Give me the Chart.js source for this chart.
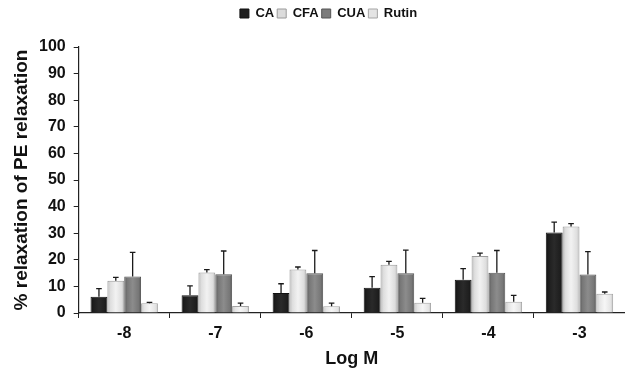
<!DOCTYPE html>
<html>
<head>
<meta charset="utf-8">
<script src="https://cdn.jsdelivr.net/npm/chart.js@4/dist/chart.umd.min.js"></script>
<style>
html,body{margin:0;padding:0;background:#fff;overflow:hidden;}
#wrap{width:625px;height:370px;position:relative;}
</style>
</head>
<body>
<div id="wrap"><canvas id="c" width="625" height="370"></canvas></div>
<script>
const categories = ["-8", "-7", "-6", "-5", "-4", "-3"];
const seriesNames = ["CA", "CFA", "CUA", "Rutin"];
const caValues    = [6.1, 6.7, 7.5, 9.5, 12.5, 30.3];
const cfaValues   = [12.1, 15.2, 16.4, 18.1, 21.4, 32.5];
const cuaValues   = [13.7, 14.6, 14.9, 14.9, 15.1, 14.5];
const rutinValues = [3.7, 2.6, 2.5, 3.9, 4.2, 7.2];
const caErr    = [3.1, 3.5, 3.5, 4.2, 4.2, 3.9];
const cfaErr   = [1.3, 1.1, 0.9, 1.3, 1.1, 1.1];
const cuaErr   = [9.1, 8.7, 8.6, 8.7, 8.4, 8.6];
const rutinErr = [0.3, 1.1, 1.2, 1.6, 2.4, 0.7];
const yTicks = [0, 10, 20, 30, 40, 50, 60, 70, 80, 90, 100];

const FONT = "'Liberation Sans', Arial, sans-serif";

const errorBars = {
  id: 'errorBars',
  afterDatasetsDraw(chart) {
    const ctx = chart.ctx;
    const y = chart.scales.y;
    chart.data.datasets.forEach((ds, di) => {
      const meta = chart.getDatasetMeta(di);
      meta.data.forEach((bar, i) => {
        const top = y.getPixelForValue(ds.data[i] + ds.errors[i]);
        const base = bar.y;
        ctx.save();
        ctx.strokeStyle = '#1a1a1a';
        ctx.lineWidth = 1.3;
        ctx.beginPath();
        ctx.moveTo(bar.x, base);
        ctx.lineTo(bar.x, top);
        ctx.moveTo(bar.x - 2.8, top);
        ctx.lineTo(bar.x + 2.8, top);
        ctx.stroke();
        ctx.restore();
      });
    });
  }
};

// horizontal shading per bar (bevelled look)
const barShading = {
  id: 'barShading',
  beforeDatasetsDraw(chart) {
    const ctx = chart.ctx;
    chart.data.datasets.forEach((ds, di) => {
      const meta = chart.getDatasetMeta(di);
      meta.data.forEach((bar) => {
        const x0 = bar.x - bar.width / 2, x1 = bar.x + bar.width / 2;
        const g = ctx.createLinearGradient(x0, 0, x1, 0);
        const s = ds.shade;
        g.addColorStop(0, s[0]);
        g.addColorStop(0.18, s[1]);
        g.addColorStop(0.5, s[2]);
        g.addColorStop(0.85, s[1]);
        g.addColorStop(1, s[0]);
        bar.options = Object.assign({}, bar.options, { backgroundColor: g });
      });
    });
  }
};

const legendShift = {
  id: 'legendShift',
  beforeInit(chart) {
    const fitOrig = chart.legend.fit;
    chart.legend.fit = function() {
      fitOrig.call(this);
      this.height += 17;
    };
  },
  afterLayout(chart) {
    chart.legend.left += 10;
    chart.legend.right += 10;
  }
};

function ds(label, data, errors, bg, border, shade) {
  return {
    label, data, errors, shade,
    backgroundColor: bg,
    borderColor: border,
    borderWidth: 1,
    barPercentage: 1.0,
    categoryPercentage: 0.74
  };
}

new Chart(document.getElementById('c'), {
  type: 'bar',
  data: {
    labels: categories,
    datasets: [
      ds(seriesNames[0], caValues, caErr, '#1e1e1e', '#111111', ['#111111', '#1e1e1e', '#2a2a2a']),
      ds(seriesNames[1], cfaValues, cfaErr, '#dcdcdc', '#9a9a9a', ['#bdbdbd', '#dedede', '#f2f2f2']),
      ds(seriesNames[2], cuaValues, cuaErr, '#7c7c7c', '#555555', ['#5a5a5a', '#777777', '#8c8c8c']),
      ds(seriesNames[3], rutinValues, rutinErr, '#e4e4e4', '#a5a5a5', ['#c4c4c4', '#e4e4e4', '#f6f6f6'])
    ]
  },
  options: {
    responsive: false,
    animation: false,
    devicePixelRatio: 1,
    layout: { padding: { left: 12, right: 0, top: 4, bottom: -6 } },
    plugins: {
      legend: {
        position: 'top',
        labels: {
          boxWidth: 9, boxHeight: 9, padding: 3,
          color: '#111',
          font: { family: FONT, size: 13, weight: 'bold' }
        }
      },
      tooltip: { enabled: false }
    },
    scales: {
      x: {
        grid: { display: true, offset: true, drawOnChartArea: false, tickLength: 5, color: '#222', lineWidth: 1 },
        border: { color: '#222', width: 1.2 },
        ticks: { color: '#111', padding: 8, font: { family: FONT, size: 16, weight: 'bold', lineHeight: 1.0 } },
        title: { display: true, text: 'Log M', color: '#111', padding: { top: 0, bottom: 8 }, font: { family: FONT, size: 18, weight: 'bold', lineHeight: 1.0 } }
      },
      y: {
        min: 0, max: 100,
        afterBuildTicks(axis) { axis.ticks = yTicks.map(v => ({ value: v })); },
        grid: { display: true, drawOnChartArea: false, tickLength: 5, color: '#222' },
        border: { color: '#222', width: 1.2 },
        ticks: { color: '#111', padding: 8, font: { family: FONT, size: 16, weight: 'bold' } },
        title: { display: true, text: '% relaxation of PE relaxation', color: '#111', padding: { top: 0, bottom: 0 }, font: { family: FONT, size: 19, weight: 'bold', lineHeight: 1.0 } }
      }
    }
  },
  plugins: [barShading, errorBars, legendShift]
});
</script>
</body>
</html>
